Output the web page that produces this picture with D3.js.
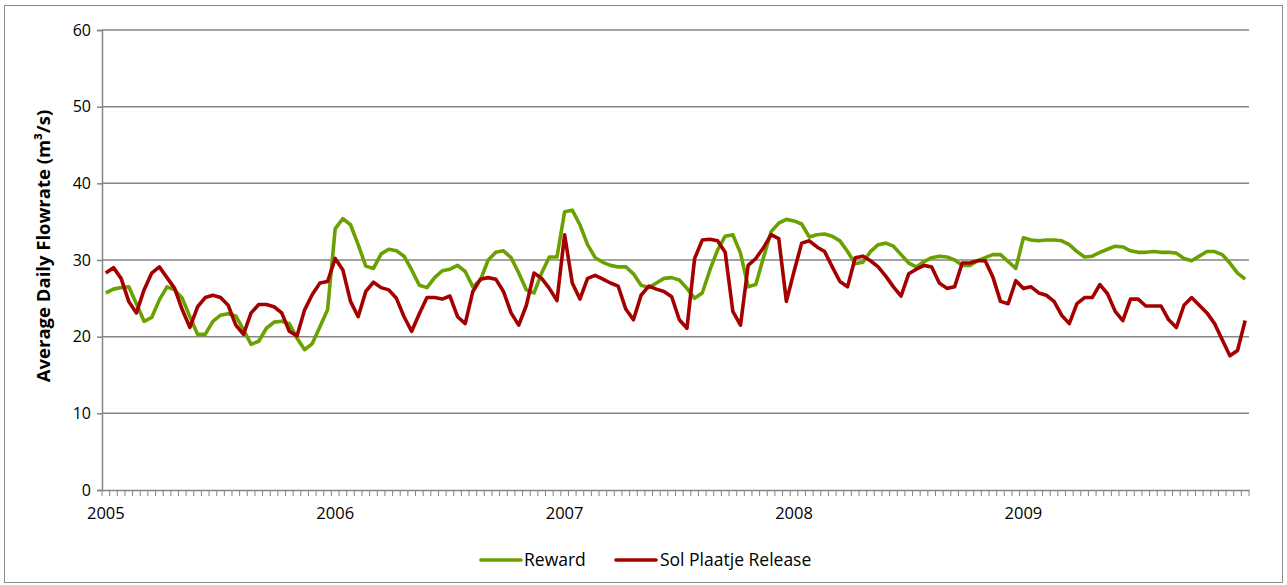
<!DOCTYPE html>
<html><head><meta charset="utf-8">
<script src="https://cdn.jsdelivr.net/npm/d3@7"></script>
<style>body{margin:0;background:#fff;}svg{display:block;font-family:"Open Sans","Noto Sans",sans-serif;}</style>
</head><body>
<script>
const yearLabels = ["2005","2006","2007","2008","2009"];
const pointsPerYear = 30;
const yTicks = [0,10,20,30,40,50,60];
const seriesNames = ["Reward","Sol Plaatje Release"];
const reward = [
25.7,26.2,26.4,26.5,24.3,22.0,22.5,24.8,26.5,26.1,25.0,22.6,20.3,20.3,22.0,22.8,23.0,22.7,20.9,19.0,19.4,21.1,21.9,22.0,21.7,19.8,18.3,19.1,21.3,23.5,
34.1,35.4,34.6,32.0,29.2,28.9,30.8,31.4,31.2,30.5,28.7,26.7,26.4,27.7,28.6,28.8,29.3,28.5,26.5,27.4,30.0,31.0,31.2,30.3,28.3,26.1,25.7,28.3,30.4,30.4,
36.3,36.5,34.6,32.0,30.3,29.7,29.3,29.1,29.1,28.2,26.7,26.4,27.0,27.6,27.7,27.4,26.3,25.0,25.7,28.7,31.3,33.1,33.3,30.9,26.5,26.8,30.3,33.7,34.8,35.3,
35.1,34.7,33.0,33.3,33.4,33.1,32.5,31.1,29.5,29.7,31.1,32.0,32.2,31.8,30.7,29.6,29.1,29.8,30.3,30.5,30.4,30.0,29.3,29.3,29.9,30.3,30.7,30.7,29.8,28.9,
32.9,32.6,32.5,32.6,32.6,32.5,32.0,31.1,30.4,30.5,31.0,31.4,31.8,31.7,31.2,31.0,31.0,31.1,31.0,31.0,30.9,30.2,29.9,30.5,31.1,31.1,30.7,29.6,28.3,27.5
];
const solPlaatje = [
28.3,29.0,27.6,24.6,23.1,26.1,28.3,29.1,27.7,26.3,23.5,21.2,23.9,25.1,25.4,25.1,24.1,21.5,20.3,23.1,24.2,24.2,23.9,23.1,20.7,20.1,23.5,25.5,27.0,27.2,
30.2,28.7,24.6,22.6,25.9,27.1,26.4,26.1,25.0,22.6,20.7,23.0,25.1,25.1,24.9,25.3,22.6,21.7,25.9,27.5,27.7,27.5,25.9,23.1,21.5,24.1,28.3,27.6,26.3,24.7,
33.3,27.0,24.9,27.6,28.0,27.5,27.0,26.6,23.6,22.2,25.4,26.6,26.2,25.9,25.2,22.2,21.1,30.2,32.6,32.7,32.5,31.0,23.3,21.5,29.3,30.2,31.6,33.3,32.8,24.6,
28.5,32.2,32.5,31.7,31.1,29.1,27.2,26.5,30.3,30.5,29.9,29.1,27.9,26.5,25.3,28.2,28.8,29.3,29.1,27.0,26.3,26.5,29.6,29.6,29.9,29.9,27.8,24.6,24.3,27.3,
26.3,26.5,25.7,25.4,24.6,22.8,21.7,24.3,25.1,25.1,26.8,25.6,23.3,22.1,24.9,24.9,24.0,24.0,24.0,22.2,21.2,24.1,25.1,24.1,23.1,21.7,19.6,17.5,18.2,22.1
];
const colors = ["#6aa000","#a50000"];

const W = 1287, H = 585;
const mLeft = 102, mRight = 1249, mTop = 30, mBottom = 490;
const svg = d3.select("body").append("svg").attr("width", W).attr("height", H);

svg.append("rect").attr("x",4.5).attr("y",5.5).attr("width",1278).attr("height",577)
  .attr("fill","#fff").attr("stroke","#8a8a8a").attr("stroke-width",1);

const idx = d3.range(reward.length);
const x = d3.scaleBand().domain(idx).range([mLeft, mRight]);
const xc = i => x(i) + x.bandwidth()/2;
const y = d3.scaleLinear().domain([0,60]).range([mBottom, mTop]);

// gridlines
svg.append("g").selectAll("line").data(yTicks.filter(t=>t>0)).join("line")
  .attr("x1",mLeft).attr("x2",mRight).attr("y1",d=>y(d)).attr("y2",d=>y(d))
  .attr("stroke","#858585").attr("stroke-width",1.5);

// y axis
const yAxis = d3.axisLeft(y).tickValues(yTicks).tickSize(5).tickPadding(6);
const gy = svg.append("g").attr("transform",`translate(${mLeft},0)`).call(yAxis);
gy.select(".domain").attr("stroke","#858585").attr("stroke-width",1.5);
gy.selectAll(".tick line").attr("stroke","#858585").attr("stroke-width",1.5);
gy.selectAll(".tick text").attr("font-size","16px").attr("font-family","Open Sans").attr("fill","#000");

// x axis
const xAxis = d3.axisBottom(x).tickSize(0).tickPadding(17)
  .tickFormat(i => i % pointsPerYear === 0 ? yearLabels[i/pointsPerYear] : "");
const gx = svg.append("g").attr("transform",`translate(0,${mBottom})`).call(xAxis);
gx.select(".domain").attr("stroke","#858585").attr("stroke-width",1.5);
gx.selectAll(".tick text").attr("font-size","16.5px").attr("font-family","Open Sans").attr("fill","#000");
const bounds = d3.range(reward.length+1).map(i => mLeft + i*x.step());
svg.append("g").selectAll("line").data(bounds).join("line")
  .attr("x1",d=>d).attr("x2",d=>d).attr("y1",mBottom).attr("y2",mBottom+6)
  .attr("stroke","#858585").attr("stroke-width",1);

// y title
svg.append("text").attr("transform",`translate(50,246) rotate(-90)`)
  .attr("text-anchor","middle").attr("font-size","18.5px").attr("font-weight","bold")
  .text("Average Daily Flowrate (m³/s)");

// lines
const line = d3.line().x((d,i)=>xc(i)).y(d=>y(d));
[reward, solPlaatje].forEach((s,k)=>{
  svg.append("path").datum(s).attr("d",line).attr("fill","none")
    .attr("stroke",colors[k]).attr("stroke-width",3.6).attr("stroke-linejoin","round");
});

// legend
const legend = [{x:481,tx:524},{x:616,tx:660}];
seriesNames.forEach((n,k)=>{
  const g = svg.append("g");
  g.append("line").attr("x1",legend[k].x).attr("x2",legend[k].x+40).attr("y1",560).attr("y2",560)
    .attr("stroke",colors[k]).attr("stroke-width",3.6).attr("stroke-linecap","round");
  g.append("text").attr("x",legend[k].tx).attr("y",566).attr("font-size","17.5px").text(n);
});
</script>
</body></html>
